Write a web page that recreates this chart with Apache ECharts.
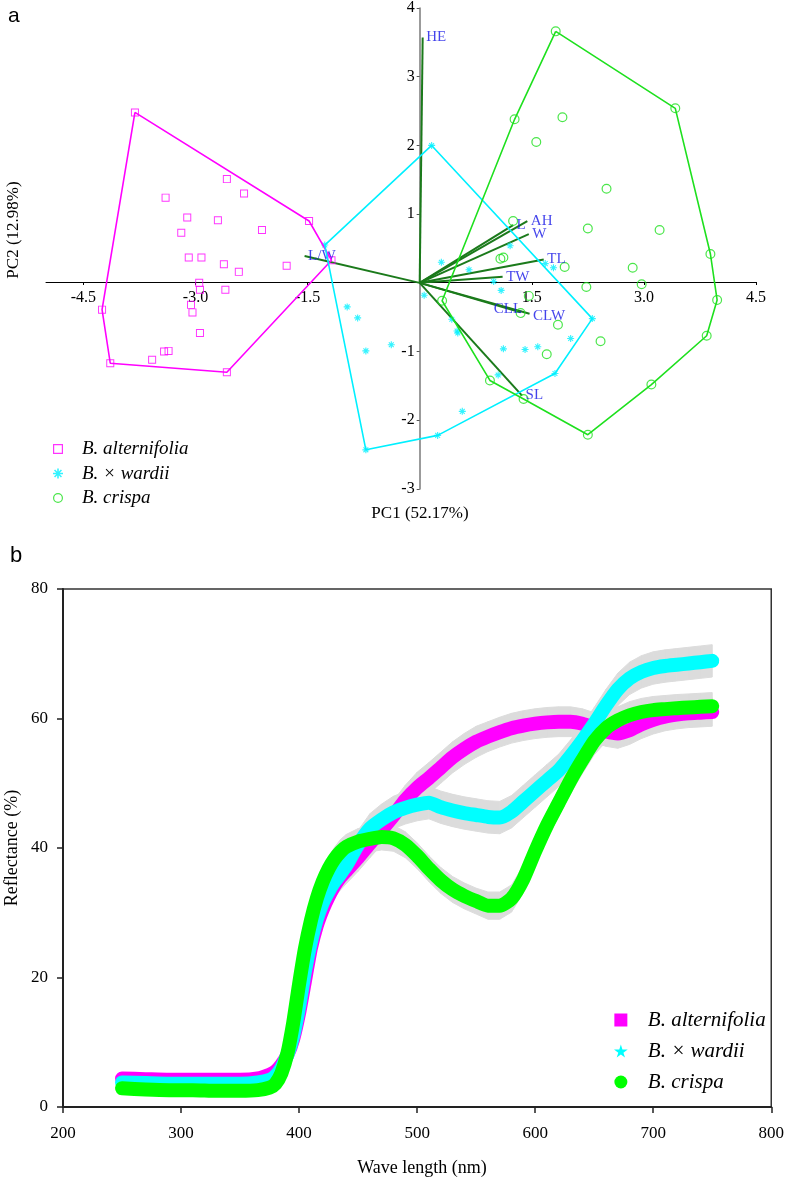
<!DOCTYPE html>
<html>
<head>
<meta charset="utf-8">
<script src="https://cdn.jsdelivr.net/npm/echarts@6/dist/echarts.min.js"></script>
<style>
  html, body { margin: 0; padding: 0; background: #fff; }
  #pca { width: 787px; height: 540px; }
  #spec { width: 787px; height: 639px; }
</style>
</head>
<body>
<div id="pca"></div>
<div id="spec"></div>
<script>
// ---------- panel a : PCA scores ----------
const altPoints = [
  [-3.81, 2.48], [-2.58, 1.51], [-2.35, 1.30], [-3.40, 1.24], [-3.11, 0.95], [-2.70, 0.91],
  [-1.48, 0.90], [-3.19, 0.73], [-2.11, 0.77], [-3.09, 0.37], [-2.92, 0.37], [-2.62, 0.27],
  [-2.42, 0.16], [-1.78, 0.25], [-1.18, 0.33], [-2.95, 0.00], [-2.94, -0.10], [-2.60, -0.10],
  [-3.06, -0.32], [-3.04, -0.43], [-2.94, -0.73], [-4.25, -0.39], [-4.14, -1.17], [-3.58, -1.12],
  [-3.42, -1.00], [-3.36, -0.99], [-2.58, -1.30]
];
const altHull = [[-3.81, 2.48], [-1.48, 0.90], [-1.18, 0.33], [-2.58, -1.30], [-4.14, -1.17], [-4.25, -0.39], [-3.81, 2.48]];

const wardPoints = [
  [0.16, 2.00], [-1.27, 0.55], [0.29, 0.30], [0.66, 0.19], [1.21, 0.54], [0.99, 0.02],
  [1.09, -0.11], [0.06, -0.18], [1.68, 0.28], [1.79, 0.22], [0.43, -0.53], [0.50, -0.70],
  [0.51, -0.73], [-0.38, -0.90], [1.12, -0.96], [1.41, -0.97], [1.58, -0.93], [2.02, -0.81],
  [1.05, -1.34], [1.81, -1.32], [2.31, -0.52], [0.57, -1.87], [0.24, -2.22], [-0.97, -0.35],
  [-0.83, -0.51], [-0.72, -0.99], [-0.72, -2.43]
];
const wardHull = [[-1.27, 0.55], [0.16, 2.00], [2.31, -0.52], [1.81, -1.32], [0.24, -2.22], [-0.72, -2.43], [-1.27, 0.55]];

const crisPoints = [
  [1.82, 3.66], [3.42, 2.54], [1.27, 2.38], [1.91, 2.41], [1.56, 2.05], [2.50, 1.37],
  [2.25, 0.79], [3.21, 0.77], [1.25, 0.90], [3.89, 0.42], [1.08, 0.35], [1.12, 0.37],
  [1.94, 0.23], [2.85, 0.22], [2.97, -0.02], [2.23, -0.06], [3.98, -0.25], [0.30, -0.26],
  [1.46, -0.19], [1.35, -0.44], [1.85, -0.61], [2.42, -0.85], [1.70, -1.04], [0.94, -1.42],
  [1.39, -1.69], [2.25, -2.21], [3.10, -1.48], [3.84, -0.77]
];
const crisHull = [[1.82, 3.66], [3.42, 2.54], [3.89, 0.42], [3.98, -0.25], [3.84, -0.77], [3.10, -1.48],
  [2.25, -2.21], [1.39, -1.69], [0.94, -1.42], [0.30, -0.26], [1.27, 2.38], [1.82, 3.66]];

// loading vectors
const loadingNames = ["HE", "L", "AH", "W", "TL", "TW", "CLL", "CLW", "SL", "L/W"];
const loadingPC1 = [0.04, 1.25, 1.44, 1.46, 1.66, 1.11, 1.35, 1.47, 1.37, -1.54];
const loadingPC2 = [3.57, 0.84, 0.90, 0.71, 0.34, 0.09, -0.43, -0.45, -1.64, 0.39];

const pcaXTicks = [-4.5, -3.0, -1.5, 1.5, 3.0, 4.5];
const pcaYTicks = [-3, -2, -1, 1, 2, 3, 4];

// ---------- panel b : reflectance spectra ----------
const waveLength = [250, 270, 290, 310, 330, 350, 365, 375,
  380, 385, 390, 395, 400, 405, 410, 415, 420, 425, 430, 435, 440,
  450, 460, 470, 480, 490, 500, 510, 520, 530, 540, 550,
  560, 570, 580, 590, 600, 610, 620, 630, 640, 650, 660, 670,
  680, 690, 700, 710, 720, 730, 740, 750];

const altMean = [4.4, 4.3, 4.2, 4.2, 4.2, 4.2, 4.4, 5.0,
  5.5, 6.5, 8.0, 10.5, 14.5, 19.5, 24.5, 28.0, 30.5, 32.5, 34.2, 35.5, 36.5,
  38.5, 40.7, 42.8, 45.0, 47.4, 49.3, 50.8, 52.4, 54.0, 55.3, 56.4,
  57.2, 57.9, 58.5, 58.9, 59.2, 59.4, 59.5, 59.5, 59.2, 58.6, 58.0, 57.7,
  58.2, 59.1, 59.8, 60.3, 60.6, 60.8, 60.9, 61.0];
const altSd = [0.3, 0.3, 0.3, 0.3, 0.3, 0.3, 0.4, 0.5,
  0.7, 0.9, 1.1, 1.3, 1.5, 1.6, 1.7, 1.8, 1.8, 1.9, 1.9, 2.0, 2.0,
  2.1, 2.2, 2.3, 2.3, 2.3, 2.4, 2.4, 2.4, 2.4, 2.4, 2.4,
  2.3, 2.3, 2.3, 2.3, 2.3, 2.3, 2.3, 2.3, 2.3, 2.3, 2.3, 2.3,
  2.2, 2.2, 2.2, 2.2, 2.2, 2.2, 2.2, 2.2];

const wardMean = [3.8, 3.7, 3.6, 3.6, 3.6, 3.6, 3.8, 4.2,
  4.8, 6.0, 8.0, 11.0, 15.5, 21.0, 25.5, 29.0, 31.5, 33.3, 34.8, 36.0, 37.3,
  40.5, 43.0, 44.4, 45.5, 46.2, 46.7, 47.0, 46.3, 45.8, 45.4, 45.1,
  44.8, 44.7, 45.6, 47.2, 48.8, 50.4, 52.0, 54.2, 56.6, 59.2, 62.0, 64.5,
  66.2, 67.2, 67.8, 68.1, 68.3, 68.5, 68.7, 68.9];
const wardSd = [0.3, 0.3, 0.3, 0.3, 0.3, 0.3, 0.4, 0.5,
  0.7, 0.9, 1.1, 1.3, 1.5, 1.6, 1.7, 1.8, 1.9, 2.0, 2.0, 2.1, 2.1,
  2.2, 2.3, 2.4, 2.5, 2.5, 2.5, 2.5, 2.5, 2.5, 2.5, 2.5,
  2.5, 2.5, 2.5, 2.5, 2.5, 2.5, 2.5, 2.5, 2.5, 2.5, 2.5, 2.5,
  2.5, 2.5, 2.5, 2.5, 2.5, 2.5, 2.5, 2.5];

const crisMean = [2.9, 2.7, 2.6, 2.6, 2.5, 2.5, 2.6, 3.0,
  3.6, 5.2, 8.2, 13.0, 19.0, 24.5, 28.8, 32.2, 34.8, 36.8, 38.3, 39.4, 40.2,
  41.0, 41.4, 41.7, 41.5, 40.5, 38.8, 36.8, 35.0, 33.6, 32.6, 31.8,
  31.1, 31.1, 32.2, 35.2, 39.5, 43.5, 47.0, 50.5, 53.6, 56.5, 58.5, 59.7,
  60.5, 61.0, 61.3, 61.45, 61.6, 61.7, 61.8, 61.9];
const crisSd = [0.3, 0.3, 0.3, 0.3, 0.3, 0.3, 0.4, 0.5,
  0.6, 0.8, 1.0, 1.2, 1.3, 1.4, 1.5, 1.6, 1.7, 1.8, 1.8, 1.9, 1.9,
  2.0, 2.0, 2.0, 2.0, 2.0, 2.0, 2.0, 2.0, 2.0, 2.0, 2.0,
  2.1, 2.1, 2.1, 2.1, 2.1, 2.1, 2.1, 2.1, 2.1, 2.1, 2.1, 2.1,
  2.1, 2.1, 2.1, 2.1, 2.1, 2.1, 2.1, 2.1];

const SERIF = "'Liberation Serif', 'Times New Roman', serif";
const MAGENTA = "#ff00ff";
const CYAN = "#00f0ff";
const GREEN = "#1ee01e";
const LOADING = "#1b7a1b";

// symbols
const hollowSquare = "path://M0,0H10V10H0Z M1.2,1.2V8.8H8.8V1.2Z";
const hollowCircle = "path://M5,0A5,5 0 1,1 4.99,0Z M5,1.2A3.8,3.8 0 1,0 5.01,1.2Z";
const asterisk = "path://M4.2,0H5.8V10H4.2Z M0,4.2H10V5.8H0Z M1.0,2.1L2.1,1.0L9.0,7.9L7.9,9.0Z M7.9,1.0L9.0,2.1L2.1,9.0L1.0,7.9Z";
const solidSquare = "path://M0,0H10V10H0Z";
const star = "path://M50,0L61,35L98,35L68,57L79,91L50,70L21,91L32,57L2,35L39,35Z";

// panel a layout: axes cross at the origin, so the axes are shifted into the grid
const pcaGrid = { left: 46, right: 31, top: 6, bottom: 51 };
const pcaW = 787 - pcaGrid.left - pcaGrid.right;
const pcaH = 540 - pcaGrid.top - pcaGrid.bottom;
const pcaX = [-5, 4.5];
const pcaY = [-3, 4];

const pcaChart = echarts.init(document.getElementById("pca"));
pcaChart.setOption({
  animation: false,
  grid: pcaGrid,
  xAxis: {
    type: "value",
    min: pcaX[0],
    max: pcaX[1],
    position: "bottom",
    offset: -(0 - pcaY[0]) / (pcaY[1] - pcaY[0]) * pcaH,
    splitLine: { show: false },
    axisLine: { onZero: false, lineStyle: { color: "#000", width: 1 } },
    axisTick: { show: true, customValues: pcaXTicks, length: 3, lineStyle: { color: "#000" } },
    axisLabel: {
      customValues: pcaXTicks,
      formatter: (v) => v.toFixed(1),
      fontFamily: SERIF, fontSize: 16, color: "#000", margin: 8,
    },
  },
  yAxis: {
    type: "value",
    min: pcaY[0],
    max: pcaY[1],
    interval: 1,
    position: "left",
    offset: -(0 - pcaX[0]) / (pcaX[1] - pcaX[0]) * pcaW,
    splitLine: { show: false },
    axisLine: { onZero: false, lineStyle: { color: "#7a7a7a", width: 1.5 } },
    axisTick: { show: true, customValues: pcaYTicks, length: 3, lineStyle: { color: "#555" } },
    axisLabel: {
      customValues: pcaYTicks,
      fontFamily: SERIF, fontSize: 16, color: "#000", margin: 5,
    },
  },
  legend: {
    orient: "vertical",
    left: 53,
    top: 439,
    padding: 0,
    itemWidth: 38,
    itemHeight: 10,
    itemGap: 4.5,
    textStyle: { fontFamily: SERIF, fontStyle: "italic", fontSize: 19, lineHeight: 20, color: "#000" },
    data: [
      { name: "B. alternifolia", icon: hollowSquare },
      { name: "B. × wardii", icon: asterisk },
      { name: "B. crispa", icon: hollowCircle },
    ],
  },
  graphic: [
    { type: "text", left: 8, top: 6, style: { text: "a", font: "21px 'Liberation Sans', Arial, sans-serif", fill: "#000" } },
    { type: "text", x: 420, y: 514, style: { text: "PC1 (52.17%)", font: "17px " + SERIF, fill: "#000", align: "center", verticalAlign: "middle" } },
    { type: "text", x: 14, y: 230, rotation: Math.PI / 2, style: { text: "PC2 (12.98%)", font: "17px " + SERIF, fill: "#000", align: "center", verticalAlign: "middle" } },
  ],
  series: [
    { name: "alt hull", type: "line", data: altHull, symbol: "none", silent: true, lineStyle: { color: MAGENTA, width: 1.6 } },
    { name: "ward hull", type: "line", data: wardHull, symbol: "none", silent: true, lineStyle: { color: CYAN, width: 1.6 } },
    { name: "cris hull", type: "line", data: crisHull, symbol: "none", silent: true, lineStyle: { color: GREEN, width: 1.6 } },
    {
      name: "loadings",
      type: "lines",
      coordinateSystem: "cartesian2d",
      silent: true,
      lineStyle: { color: LOADING, width: 2, opacity: 1 },
      data: loadingNames.map((n, i) => ({ coords: [[0, 0], [loadingPC1[i], loadingPC2[i]]] })),
    },
    { name: "B. alternifolia", type: "scatter", data: altPoints, symbol: hollowSquare, symbolSize: 8, itemStyle: { color: MAGENTA } },
    { name: "B. × wardii", type: "scatter", data: wardPoints, symbol: asterisk, symbolSize: 7, itemStyle: { color: CYAN } },
    { name: "B. crispa", type: "scatter", data: crisPoints, symbol: hollowCircle, symbolSize: 10, itemStyle: { color: GREEN } },
    {
      name: "loading labels",
      type: "scatter",
      symbolSize: 1,
      silent: true,
      itemStyle: { color: "rgba(0,0,0,0)" },
      label: { show: true, formatter: "{b}", fontFamily: SERIF, fontSize: 15, color: "#1414e6", distance: 3 },
      data: loadingNames.map((n, i) => ({
        name: n,
        value: [loadingPC1[i], loadingPC2[i]],
        label: n === "CLL" ? { position: "left", distance: 0, offset: [2, -3] }
          : n === "CLW" ? { position: "right", offset: [0, 2] }
          : { position: "right" },
      })),
    },
  ],
});

// ---------- panel b chart ----------
// grey band = mean ± sd, drawn as quads between neighbouring wavelengths
function bandSeries(id, mean, sd) {
  const rows = [];
  for (let i = 0; i < waveLength.length - 1; i++) {
    rows.push([waveLength[i], mean[i] - sd[i], mean[i] + sd[i],
      waveLength[i + 1], mean[i + 1] - sd[i + 1], mean[i + 1] + sd[i + 1]]);
  }
  return {
    name: id + "-sd",
    type: "custom",
    silent: true,
    clip: true,
    data: rows,
    encode: { x: [0, 3], y: [1, 2, 4, 5] },
    renderItem: (params, api) => {
      const a = api.coord([api.value(0), api.value(1)]);
      const b = api.coord([api.value(3), api.value(4)]);
      const c = api.coord([api.value(3), api.value(5)]);
      const d = api.coord([api.value(0), api.value(2)]);
      return {
        type: "polygon",
        shape: { points: [a, b, c, d] },
        style: { fill: "#dcdcdc", stroke: "#dcdcdc", lineWidth: 1 },
      };
    },
  };
}

function meanSeries(name, mean, color) {
  return {
    name: name,
    type: "line",
    data: mean.map((m, i) => [waveLength[i], m]),
    symbol: "none",
    smooth: 0.2,
    itemStyle: { color: color },
    lineStyle: { color: color, width: 14, cap: "round", join: "round" },
  };
}

const specChart = echarts.init(document.getElementById("spec"));
specChart.setOption({
  animation: false,
  grid: { left: 63, right: 6, top: 49, bottom: 72, show: true, borderColor: "#333", borderWidth: 1.5 },
  xAxis: {
    type: "value",
    min: 200,
    max: 800,
    interval: 100,
    splitLine: { show: false },
    axisLine: { lineStyle: { color: "#222", width: 2 } },
    axisTick: { length: 6, lineStyle: { color: "#222", width: 1.5 } },
    axisLabel: { fontFamily: SERIF, fontSize: 17, color: "#000", margin: 18 },
  },
  yAxis: {
    type: "value",
    min: 0,
    max: 80,
    interval: 20,
    splitLine: { show: false },
    axisLine: { lineStyle: { color: "#222", width: 2 } },
    axisTick: { length: 6, lineStyle: { color: "#222", width: 1.5 } },
    axisLabel: { fontFamily: SERIF, fontSize: 17, color: "#000", margin: 15 },
  },
  legend: {
    orient: "vertical",
    left: 614,
    top: 469,
    padding: 0,
    itemWidth: 44,
    itemHeight: 13,
    itemGap: 9,
    textStyle: { fontFamily: SERIF, fontStyle: "italic", fontSize: 21, lineHeight: 22, color: "#000" },
    data: [
      { name: "B. alternifolia", icon: solidSquare },
      { name: "B. × wardii", icon: star },
      { name: "B. crispa", icon: "circle" },
    ],
  },
  graphic: [
    { type: "text", left: 10, top: 5, style: { text: "b", font: "22px 'Liberation Sans', Arial, sans-serif", fill: "#000" } },
    { type: "text", x: 422, y: 628, style: { text: "Wave length (nm)", font: "18px " + SERIF, fill: "#000", align: "center", verticalAlign: "middle" } },
    { type: "text", x: 12, y: 308, rotation: Math.PI / 2, style: { text: "Reflectance (%)", font: "18px " + SERIF, fill: "#000", align: "center", verticalAlign: "middle" } },
  ],
  series: [
    bandSeries("alt", altMean, altSd),
    meanSeries("B. alternifolia", altMean, MAGENTA),
    bandSeries("ward", wardMean, wardSd),
    meanSeries("B. × wardii", wardMean, "#00ffff"),
    bandSeries("cris", crisMean, crisSd),
    meanSeries("B. crispa", crisMean, "#00ff00"),
  ],
});
</script>
</body>
</html>
